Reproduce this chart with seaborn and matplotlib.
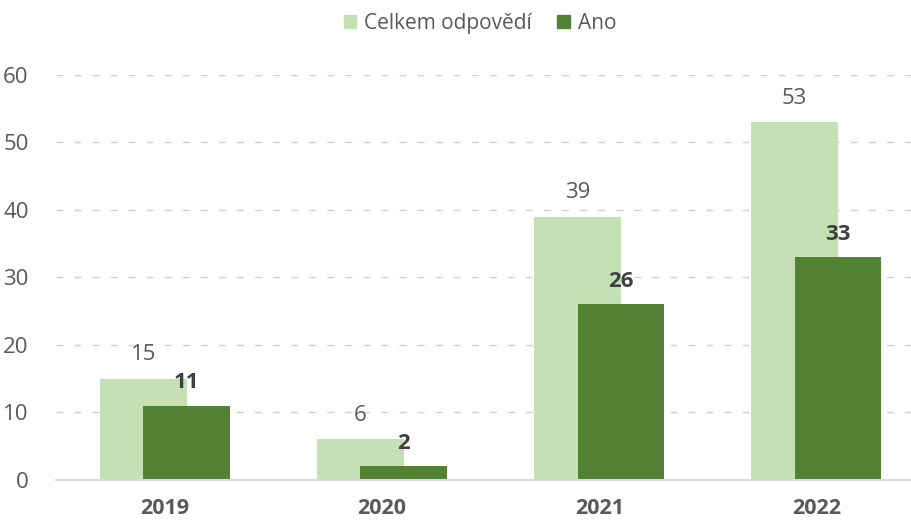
import matplotlib
matplotlib.use('Agg')
import matplotlib.pyplot as plt
import seaborn as sns
import pandas as pd
from matplotlib.patches import Patch

years = ['2019', '2020', '2021', '2022']
celkem = [15, 6, 39, 53]
ano = [11, 2, 26, 33]
series_names = ['Celkem odpovědí', 'Ano']

light = '#C5E0B4'
dark = '#548235'
text_col = '#595959'

sns.set_style('white')
plt.rcParams['font.family'] = ['Open Sans', 'DejaVu Sans']

fig = plt.figure(figsize=(9.11, 5.2), dpi=100)
ax = fig.add_axes([0.062, 0.077, 0.938, 0.779])

df_total = pd.DataFrame({'year': years, 'value': celkem})
df_yes = pd.DataFrame({'year': years, 'value': ano})

sns.barplot(data=df_total, x='year', y='value', color=light, width=0.4,
            saturation=1, ax=ax, zorder=2)
n = len(ax.patches)
sns.barplot(data=df_yes, x='year', y='value', color=dark, width=0.4,
            saturation=1, ax=ax, zorder=3)

# overlap the two series: shift light left, dark right
for i, p in enumerate(ax.patches):
    shift = -0.1 if i < n else 0.1
    p.set_x(p.get_x() + shift)
    p.set_linewidth(0)

for i, p in enumerate(ax.patches):
    cx = p.get_x() + p.get_width() / 2
    h = p.get_height()
    if i < n:
        ax.annotate(f'{int(h)}', (cx, h), xytext=(0, 24), textcoords='offset pixels',
                    ha='center', va='center', color=text_col, fontsize=16)
    else:
        ax.annotate(f'{int(h)}', (cx, h), xytext=(0, 23), textcoords='offset pixels',
                    ha='center', va='center', color='#404040', fontsize=16,
                    fontweight='bold')

ax.set_ylim(0, 60)
ax.set_xlim(-0.5, 3.436)
ax.set_yticks(range(0, 61, 10))
ax.yaxis.grid(True, color='#D0D0D0', linestyle=(0, (5, 8)), linewidth=1)
ax.set_axisbelow(True)
for s in ['top', 'right', 'left']:
    ax.spines[s].set_visible(False)
ax.spines['bottom'].set_color('#D9D9D9')
ax.spines['bottom'].set_linewidth(1.5)
ax.spines['bottom'].set_zorder(4)
ax.tick_params(axis='y', length=0, pad=20, labelsize=16, labelcolor=text_col)
ax.tick_params(axis='x', length=0, pad=13, labelsize=15.5, labelcolor=text_col)
for t in ax.get_xticklabels():
    t.set_fontweight('bold')
ax.set_xlabel('')
ax.set_ylabel('')

handles = [Patch(color=light, label=series_names[0]),
           Patch(color=dark, label=series_names[1])]
fig.legend(handles=handles, loc='center', bbox_to_anchor=(0.527, 0.955), ncol=2,
           frameon=False, fontsize=15, handlelength=0.6, handleheight=0.6,
           handletextpad=0.4, columnspacing=1.2, labelcolor=text_col)

fig.savefig('out.png', dpi=100)
plt.close(fig)
